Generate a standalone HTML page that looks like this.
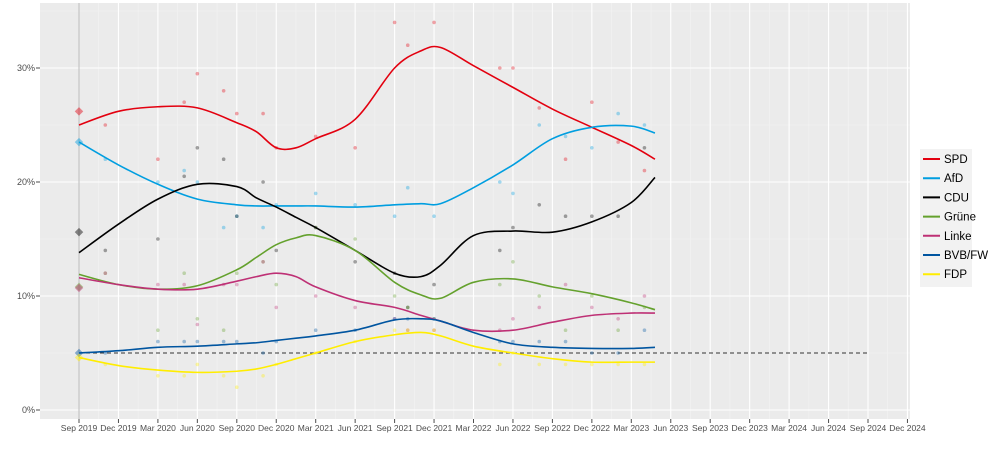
<!DOCTYPE html>
<html><head><meta charset="utf-8"><style>
body{margin:0;background:#fff;font-family:"Liberation Sans",sans-serif}
svg text{font-family:"Liberation Sans",sans-serif}
</style></head><body>
<svg id="c" width="1000" height="444" xmlns="http://www.w3.org/2000/svg"></svg>
<script>
// month offsets from Sep 2019
const tickLabels=["Sep 2019","Dec 2019","Mar 2020","Jun 2020","Sep 2020","Dec 2020","Mar 2021","Jun 2021","Sep 2021","Dec 2021","Mar 2022","Jun 2022","Sep 2022","Dec 2022","Mar 2023","Jun 2023","Sep 2023","Dec 2023","Mar 2024","Jun 2024","Sep 2024","Dec 2024"];
const yTicks=[0,10,20,30];
const parties=["SPD","AfD","CDU","Grüne","Linke","BVB/FW","FDP"];
const colors=["#e3000f","#009ee0","#000000","#64a12d","#be3075","#0055a0","#ffed00"];
const smM=[0,3,6,9,12,13.5,15,16.5,18,21,24,26,27.5,30,33,36,39,42,43.8];
const spdS=[25,26.2,26.6,26.5,25.2,24.4,23.0,23.0,23.8,25.5,30,31.5,31.8,30.2,28.3,26.4,24.8,23.2,22.0];
const afdS=[23.5,21.5,19.8,18.5,18.0,17.9,17.9,17.9,17.9,17.8,18.0,18.1,18.1,19.5,21.5,23.8,24.8,24.9,24.3];
const cduS=[13.8,16.3,18.5,19.8,19.6,18.6,17.8,16.9,16.0,14.0,12.0,11.7,12.7,15.3,15.7,15.6,16.5,18.2,20.4];
const grueneS=[11.9,11.0,10.6,10.9,12.3,13.4,14.5,15.1,15.3,14.0,11.2,10.1,9.8,11.2,11.5,10.8,10.2,9.4,8.8];
const linkeS=[11.6,11.0,10.6,10.6,11.3,11.7,12.0,11.7,10.8,9.6,9.0,8.3,7.8,7.0,7.0,7.7,8.3,8.5,8.5];
const bvbS=[5.0,5.2,5.5,5.6,5.8,5.9,6.1,6.3,6.5,7.0,7.9,8.0,7.8,6.8,5.8,5.5,5.4,5.4,5.5];
const fdpS=[4.6,3.9,3.5,3.3,3.4,3.6,4.0,4.5,5.0,6.0,6.6,6.8,6.5,5.6,5.0,4.5,4.2,4.2,4.2];
const ptM=[2,6,8,9,11,12,14,15,18,21,24,25,27,32,33,35,37,39,41,43];
const spdP=[25,22,27,29.5,28,26,26,23,24,23,34,32,34,30,30,26.5,22,27,23.5,21];
const afdP=[22,20,21,20,16,17,16,18,19,18,17,19.5,17,20,19,25,24,23,26,25];
const cduP=[14,15,20.5,23,22,17,20,14,16,13,12,9,11,14,16,18,17,17,17,23];
const grueneP=[12,7,12,8,7,12,13,11,16,15,10,9,8,11,13,10,7,10,7,9];
const linkeP=[12,11,11,7.5,11,11,13,9,10,9,8,7,7,7,8,9,11,9,8,10];
const bvbP=[5,6,6,6,6,6,5,6,7,7,8,8,8,6,6,6,6,5,5,7];
const fdpP=[4,3,3,4,3,2,3,4,5,6,7,7,7,4,5,4,4,4,4,4];
const elect=[26.2,23.5,15.6,10.8,10.7,5.0,4.6];
const threshold=5;

const S=[spdS,afdS,cduS,grueneS,linkeS,bvbS,fdpS];
const P=[spdP,afdP,cduP,grueneP,linkeP,bvbP,fdpP];
const X=m=>79+m*13.15;
const Y=v=>410-v*11.4;
const svg=document.getElementById('c');const NS="http://www.w3.org/2000/svg";
function mk(t,a,p){const e=document.createElementNS(NS,t);for(const k in a)e.setAttribute(k,a[k]);(p||svg).appendChild(e);return e;}
const bg=mk('rect',{x:40,y:3,width:870,height:416,fill:'#ebebeb'});


for(let v=5;v<=35;v+=10){if(Y(v)>3)mk('line',{x1:40,x2:910,y1:Y(v),y2:Y(v),stroke:'#f3f3f3','stroke-width':0.6});}
for(let i=0;i<tickLabels.length-1;i++){const x=X(i*3+1.5);mk('line',{x1:x,x2:x,y1:3,y2:419,stroke:'#f3f3f3','stroke-width':0.6});}
yTicks.forEach(v=>{mk('line',{x1:40,x2:910,y1:Y(v),y2:Y(v),stroke:'#fff','stroke-width':1.1});
const t=mk('text',{x:35,y:Y(v)+3,'font-size':9,fill:'#4d4d4d','text-anchor':'end'});t.textContent=v+'%';


mk('line',{x1:36,x2:40,y1:Y(v),y2:Y(v),stroke:'#4d4d4d'});});
tickLabels.forEach((l,i)=>{const x=X(i*3);mk('line',{x1:x,x2:x,y1:3,y2:419,stroke:'#fff','stroke-width':1.1});
mk('line',{x1:x,x2:x,y1:419,y2:423,stroke:'#4d4d4d'});
const t=mk('text',{x:x,y:431,'font-size':8.5,fill:'#4d4d4d','text-anchor':'middle'});t.textContent=l;

});
mk('line',{x1:X(0),x2:X(0),y1:3,y2:419,stroke:'#bbbbbb','stroke-width':1});
const th=mk('line',{x1:X(0),x2:X(60),y1:Y(threshold),y2:Y(threshold),stroke:'#333','stroke-dasharray':'4,3','stroke-width':1});


// points
P.forEach((arr,i)=>{arr.forEach((v,j)=>{const c=mk('circle',{cx:X(ptM[j]),cy:Y(v),r:1.8,fill:colors[i],opacity:0.35});

});});
elect.forEach((v,i)=>{const d=mk('rect',{x:X(0)-3,y:Y(v)-3,width:6,height:6,fill:colors[i],opacity:0.45,transform:`rotate(45 ${X(0)} ${Y(v)})`});

});
function path(pts){let d=`M${pts[0][0]},${pts[0][1]}`;for(let i=0;i<pts.length-1;i++){const p0=pts[i-1]||pts[i],p1=pts[i],p2=pts[i+1],p3=pts[i+2]||p2;
d+=` C${p1[0]+(p2[0]-p0[0])/6},${p1[1]+(p2[1]-p0[1])/6} ${p2[0]-(p3[0]-p1[0])/6},${p2[1]-(p3[1]-p1[1])/6} ${p2[0]},${p2[1]}`;}return d;}
S.forEach((arr,i)=>{const pts=arr.map((v,j)=>[X(smM[j]),Y(v)]);
const p=mk('path',{d:path(pts),fill:'none',stroke:colors[i],'stroke-width':1.6});

});
// legend
const lg=mk('g',{});


mk('rect',{x:920,y:149,width:52,height:138,fill:'#f2f2f2'},lg);
parties.forEach((n,i)=>{const y=159+i*19.2;mk('line',{x1:923,x2:940,y1:y,y2:y,stroke:colors[i],'stroke-width':2},lg);
const t=mk('text',{x:944,y:y+4,'font-size':11.5,fill:'#000'},lg);t.textContent=n;

});
</script>
</body></html>
